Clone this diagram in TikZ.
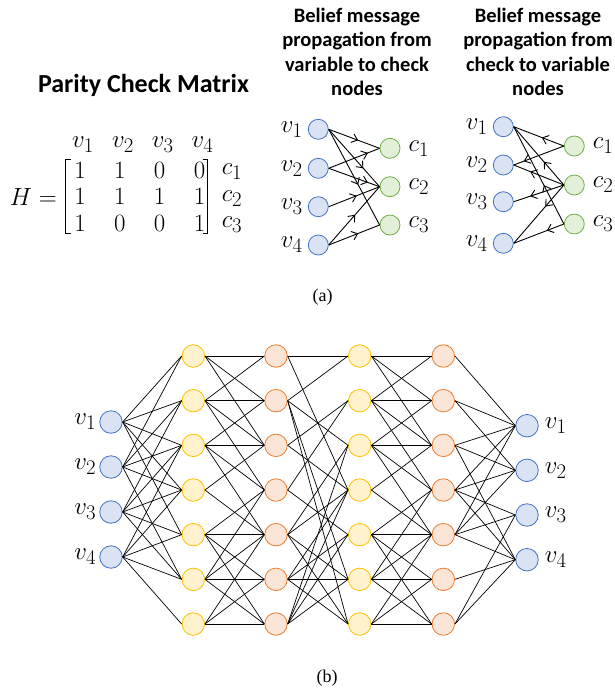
\documentclass[tikz,border=0pt]{standalone}
\usepackage{fontspec}
\setmainfont{Liberation Serif}
\newfontfamily\headfont{Carlito}
\usetikzlibrary{arrows.meta,decorations.markings}

\definecolor{vfill}{HTML}{DAE3F3}
\definecolor{vline}{HTML}{4472C4}
\definecolor{cfill}{HTML}{E2F0D9}
\definecolor{cline}{HTML}{70AD47}
\definecolor{yfill}{HTML}{FFF2CC}
\definecolor{yline}{HTML}{FFC000}
\definecolor{ofill}{HTML}{FBE5D6}
\definecolor{oline}{HTML}{ED7D31}

\newcommand\mathbig{\fontsize{24.88}{28}\selectfont}
\newcommand\headbig{\headfont\bfseries\fontsize{26}{30}\selectfont}
\newcommand\headsmall{\headfont\bfseries\fontsize{20.5}{24.5}\selectfont}

\tikzset{
  bubble/.style={circle,minimum size=#1,inner sep=0pt,line width=0.8pt},
  vnode/.style={bubble=22.5pt,draw=vline,fill=vfill},
  ynode/.style={bubble=22.5pt,draw=yline,fill=yfill},
  onode/.style={bubble=22.5pt,draw=oline,fill=ofill},
  svnode/.style={bubble=20pt,draw=vline,fill=vfill},
  scnode/.style={bubble=20pt,draw=cline,fill=cfill},
  mlabel/.style={inner sep=0pt,font=\mathbig},
  link/.style={line width=0.7pt,black},
  msg/.style={line width=0.9pt,black,postaction={decorate},
    decoration={markings,mark=at position #1 with
      {\arrow{Straight Barb[length=5.5pt,width=9pt,line width=0.9pt]}}}},
}

\begin{document}
\begin{tikzpicture}[x=1pt,y=-1pt]
\useasboundingbox (0,0) rectangle (615,691);

% ---------- parity check matrix ----------
\node[inner sep=0pt,font=\headbig] (ptitle) at (143.5,85) {Parity Check Matrix};
\node[mlabel,anchor=east] (hlabel) at (57,197) {$H=$};
\foreach \y/\row [count=\r] in {170/{1,1,0,0},196.5/{1,1,1,1},223/{1,0,0,1}} {
  \foreach \val [count=\c] in \row {
    \node[mlabel] (h\r\c) at ({40.3+39.8*\c},\y) {$\val$};
  }
}
\foreach \c in {1,...,4}
  \node[mlabel] (hv\c) at ({43.3+39.8*\c},145) {$v_{\c}$};
\foreach \y [count=\r] in {172,198.5,225}
  \node[mlabel] (hc\r) at (232,\y) {$c_{\r}$};
\draw[line width=1.2pt] (70.5,159.3) -- (65.7,159.3) -- (65.7,233.5) -- (70.5,233.5);
\draw[line width=1.2pt] (202.5,159.3) -- (207.3,159.3) -- (207.3,233.5) -- (202.5,233.5);

% ---------- variable -> check messages ----------
\node[inner sep=0pt,font=\headsmall,align=center] (ftitle) at (357,52)
  {Belief message\\propagation from\\variable to check\\nodes};
\foreach \y [count=\i] in {129.3,168.3,206.7,245}
  \node[svnode,label={[mlabel,label distance=5pt]left:$v_{\i}$}] (pv\i) at (318.3,\y) {};
\foreach \y [count=\i] in {148.3,186.7,225}
  \node[scnode,label={[mlabel,label distance=8pt]right:$c_{\i}$}] (pc\i) at (390,\y) {};
\foreach \s/\t/\p in {1/1/0.58,1/2/0.68,1/3/0.58,2/1/0.77,2/2/0.77,3/2/0.55,4/2/0.52,4/3/0.58}
  \draw[msg=\p] (pv\s.east) -- (pc\t.west);

% ---------- check -> variable messages ----------
\node[inner sep=0pt,font=\headsmall,align=center] (btitle) at (538,52)
  {Belief message\\propagation from\\check to variable\\nodes};
\foreach \y [count=\i] in {126.7,165,201.7,243.3}
  \node[svnode,label={[mlabel,label distance=5pt]left:$v_{\i}$}] (qv\i) at (503.3,\y) {};
\foreach \y [count=\i] in {146,185,224}
  \node[scnode,label={[mlabel,label distance=8pt]right:$c_{\i}$}] (qc\i) at (574.3,\y) {};
\foreach \t/\s/\p in {1/1/0.44,1/2/0.8,2/1/0.4,2/2/0.67,2/3/0.67,2/4/0.37,3/1/0.4,3/4/0.34}
  \draw[msg=\p] (qc\t.west) -- (qv\s.east);

\node[inner sep=0pt,font=\fontsize{18}{20}\selectfont] (capa) at (322.5,297) {(a)};

% ---------- unrolled decoding network ----------
\foreach \y [count=\i] in {422,467,512,557}
  \node[vnode,label={[mlabel,label distance=3pt]left:$v_{\i}$}] (in\i) at (111,\y) {};
\foreach \i in {1,...,7} {
  \node[ynode] (ya\i) at (193.3,{356+44.67*(\i-1)}) {};
  \node[onode] (oa\i) at (276,{356+44.67*(\i-1)}) {};
  \node[ynode] (yb\i) at (359.7,{356+44.67*(\i-1)}) {};
  \node[onode] (ob\i) at (443.3,{356+44.67*(\i-1)}) {};
}
\foreach \y [count=\i] in {425.7,470.3,515,559.7}
  \node[vnode,label={[mlabel,label distance=6pt]right:$v_{\i}$}] (out\i) at (527,\y) {};

% input layer to first variable layer
\foreach \s/\t in {1/1,1/2,1/3,1/4,1/5, 2/1,2/2,2/3,2/4,2/6,
                   3/2,3/3,3/4,3/5,3/6, 4/3,4/4,4/5,4/6,4/7}
  \draw[link] (in\s.east) -- (ya\t.west);
% variable layer to check layer (used twice)
\foreach \s/\t in {1/1,1/2,1/3, 2/1,2/2,2/3,2/4, 3/2,3/3,3/4,3/5, 4/3,4/5,
                   5/4,5/5,5/6,5/7, 6/4,6/5,6/6,6/7, 7/5,7/6,7/7} {
  \draw[link] (ya\s.east) -- (oa\t.west);
  \draw[link] (yb\s.east) -- (ob\t.west);
}
% check layer to second variable layer
\foreach \s/\t in {1/1,1/4, 2/1,2/3,2/6,2/7, 3/2,3/4, 4/2,4/5,
                   5/3,5/4,5/6,5/7, 6/4,6/5,6/6,6/7, 7/3,7/4,7/5,7/6}
  \draw[link] (oa\s.east) -- (yb\t.west);
% last check layer to output
\foreach \s/\t in {1/1, 2/1,2/2, 3/1,3/2,3/4, 4/1,4/2,4/3,4/4,
                   5/1,5/2,5/3,5/4, 6/4, 7/3,7/4}
  \draw[link] (ob\s.east) -- (out\t.west);

\node[inner sep=0pt,font=\fontsize{18}{20}\selectfont] (capb) at (327,678) {(b)};
\end{tikzpicture}
\end{document}
